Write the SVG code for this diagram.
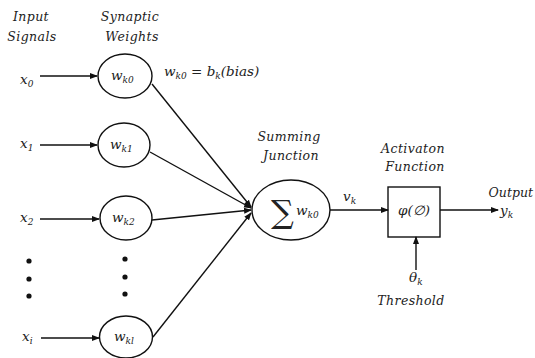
<svg xmlns="http://www.w3.org/2000/svg" width="535" height="358" viewBox="0 0 535 358">
<defs>
<style>
text{font-family:"DejaVu Serif","Liberation Serif",serif;font-style:italic;fill:#222;font-size:13.5px}
.lbl{font-size:12.5px;letter-spacing:0.4px}
.sub{font-size:9px}
.node{fill:#fff;stroke:#111;stroke-width:1.4}
.edge{stroke:#111;stroke-width:1.4;fill:none;marker-end:url(#ah)}
.dot{fill:#111}
</style>
<marker id="ah" markerWidth="8" markerHeight="8" refX="7" refY="4" orient="auto" markerUnits="userSpaceOnUse">
<path d="M0,1 L8,4 L0,7 z" fill="#111"/>
</marker>
</defs>
<rect width="535" height="358" fill="#fff"/>

<g id="labels">
<text class="lbl" x="31" y="21" text-anchor="middle">Input</text>
<text class="lbl" x="32" y="41" text-anchor="middle">Signals</text>
<text class="lbl" x="130" y="21" text-anchor="middle">Synaptic</text>
<text class="lbl" x="132" y="41" text-anchor="middle">Weights</text>
<text class="lbl" x="289" y="141" text-anchor="middle">Summing</text>
<text class="lbl" x="291" y="160" text-anchor="middle">Junction</text>
<text class="lbl" x="413" y="153" text-anchor="middle">Activaton</text>
<text class="lbl" x="415" y="171" text-anchor="middle">Function</text>
<text class="lbl" x="533" y="197" text-anchor="end" style="letter-spacing:0">Output</text>
<text class="lbl" x="411" y="305" text-anchor="middle">Threshold</text>
<text x="164" y="76">w<tspan class="sub" dy="3">k0</tspan><tspan dy="-3"> = b</tspan><tspan class="sub" dy="3">k</tspan><tspan dy="-3">(bias)</tspan></text>
</g>

<g id="inputs">
<text x="20" y="84">x<tspan class="sub" dy="3">0</tspan></text>
<text x="20" y="148">x<tspan class="sub" dy="3">1</tspan></text>
<text x="20" y="222">x<tspan class="sub" dy="3">2</tspan></text>
<text x="22" y="341">x<tspan class="sub" dy="3">i</tspan></text>
<circle class="dot" cx="29" cy="261" r="2.6"/>
<circle class="dot" cx="29" cy="279" r="2.6"/>
<circle class="dot" cx="29" cy="296" r="2.6"/>
<circle class="dot" cx="125" cy="259" r="2.6"/>
<circle class="dot" cx="125" cy="277" r="2.6"/>
<circle class="dot" cx="125" cy="294" r="2.6"/>
</g>

<g id="w0"><ellipse class="node" cx="125" cy="76" rx="27" ry="22"/><text x="111" y="80">w<tspan class="sub" dy="3">k0</tspan></text></g>
<g id="w1"><ellipse class="node" cx="124" cy="145" rx="26" ry="22"/><text x="110" y="149">w<tspan class="sub" dy="3">k1</tspan></text></g>
<g id="w2"><ellipse class="node" cx="126" cy="218" rx="26" ry="22"/><text x="112" y="222">w<tspan class="sub" dy="3">k2</tspan></text></g>
<g id="wi"><ellipse class="node" cx="126" cy="337" rx="26.5" ry="21"/><text x="114" y="341">w<tspan class="sub" dy="3">kl</tspan></text></g>

<g id="sum"><ellipse class="node" cx="291" cy="210" rx="39" ry="30"/>
<text x="271" y="223" style="font-style:normal;font-size:32px">∑</text>
<text x="296" y="215">w<tspan class="sub" dy="3">k0</tspan></text></g>

<g id="act"><rect class="node" x="388" y="187" width="52" height="50"/>
<text x="414" y="215" text-anchor="middle">φ(∅)</text></g>

<g id="connectors">
<line class="edge" x1="40" y1="76" x2="97" y2="76"/>
<line class="edge" x1="40" y1="145" x2="97" y2="145"/>
<line class="edge" x1="40" y1="219" x2="99" y2="219"/>
<line class="edge" x1="41" y1="338" x2="99" y2="338"/>
<line class="edge" x1="152" y1="84" x2="251" y2="207"/>
<line class="edge" x1="150" y1="152" x2="251" y2="208"/>
<line class="edge" x1="152" y1="220" x2="251" y2="210"/>
<line class="edge" x1="153" y1="337" x2="251" y2="213"/>
<line class="edge" x1="330" y1="210" x2="388" y2="210"/>
<line class="edge" x1="440" y1="210" x2="498" y2="210"/>
<line class="edge" x1="416" y1="270" x2="416" y2="237"/>
<text x="343" y="201">v<tspan class="sub" dy="3">k</tspan></text>
<text x="500" y="215">y<tspan class="sub" dy="3">k</tspan></text>
<text x="409" y="282">θ<tspan class="sub" dy="3">k</tspan></text>
</g>
</svg>
